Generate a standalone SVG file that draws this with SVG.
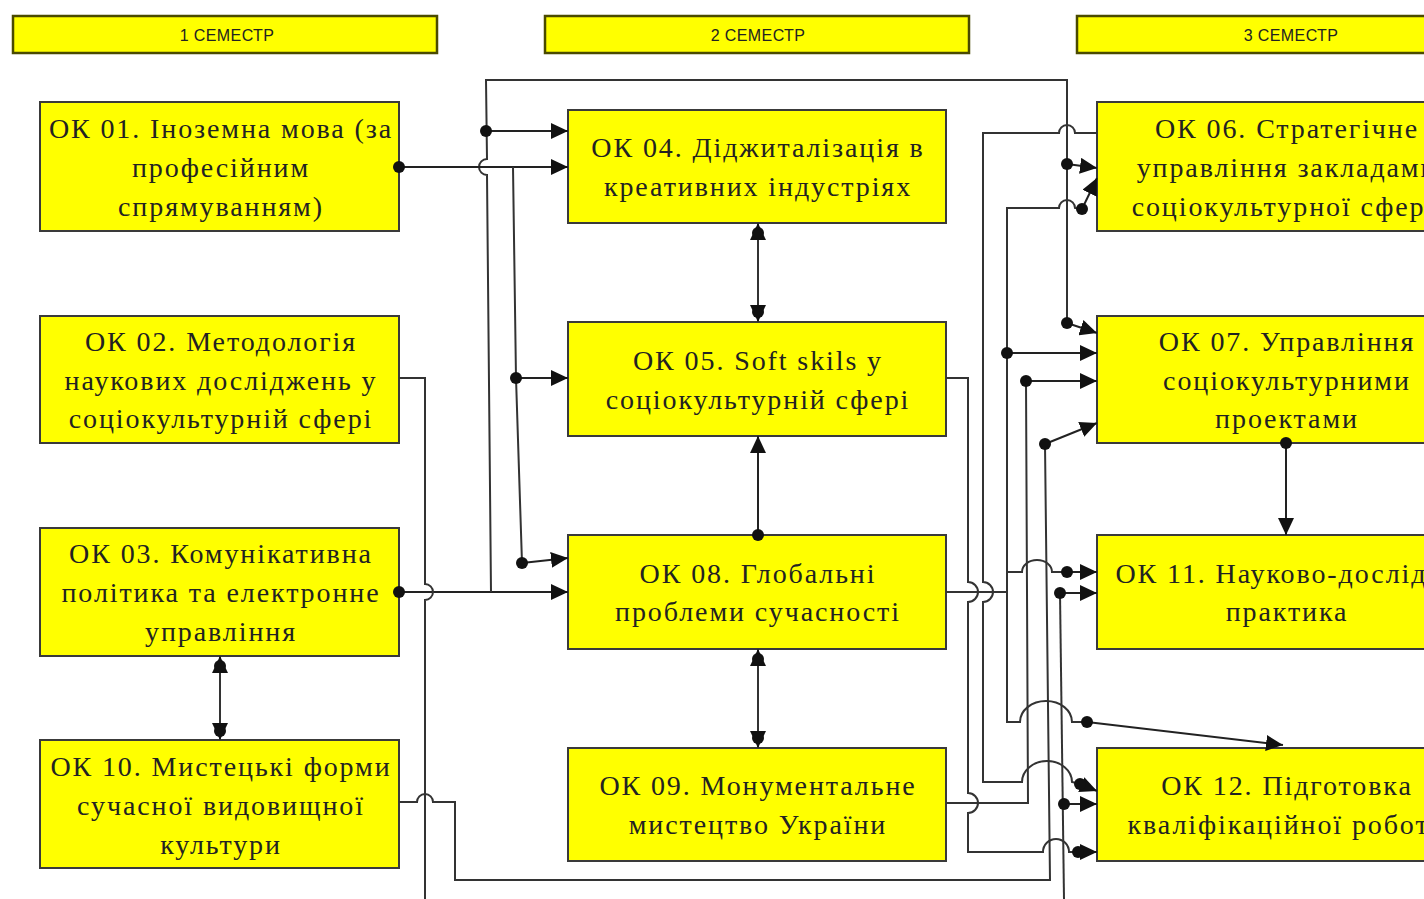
<svg xmlns="http://www.w3.org/2000/svg" width="1424" height="899" viewBox="0 0 1424 899">
<style>
.hdr{fill:#ffff00;stroke:#4a4a00;stroke-width:2.5}
.ht{font-family:"Liberation Sans",Arial,sans-serif;font-size:16px;letter-spacing:0.4px;fill:#222;text-anchor:middle}
.box{fill:#ffff00;stroke:#3a3a3a;stroke-width:2}
.t{font-family:"Liberation Serif","Times New Roman",serif;font-size:28px;letter-spacing:1.9px;fill:#222;text-anchor:middle}
.ln{fill:none;stroke:#333;stroke-width:2}
.ar{fill:none;stroke:#222;stroke-width:2;marker-end:url(#ah)}
.dot{fill:#111}
</style>
<defs>
<marker id="ah" markerUnits="userSpaceOnUse" markerWidth="18" markerHeight="16" refX="17" refY="8" orient="auto">
<path d="M0,0 L17,8 L0,16 z" fill="#111"/>
</marker>
<marker id="as" markerUnits="userSpaceOnUse" markerWidth="18" markerHeight="16" refX="17" refY="8" orient="auto-start-reverse">
<path d="M0,0 L17,8 L0,16 z" fill="#111"/>
</marker>
</defs>
<rect width="1424" height="899" fill="#fff"/>

<g id="headers">
<rect class="hdr" x="13" y="16" width="424" height="37"/>
<text class="ht" x="227" y="41">1 СЕМЕСТР</text>
<rect class="hdr" x="545" y="16" width="424" height="37"/>
<text class="ht" x="758" y="41">2 СЕМЕСТР</text>
<rect class="hdr" x="1077" y="16" width="424" height="37"/>
<text class="ht" x="1291" y="41">3 СЕМЕСТР</text>
</g>

<g id="ok01"><rect class="box" x="40" y="102" width="359" height="129"/>
<text class="t" x="221" y="138">ОК 01. Іноземна мова (за</text><text class="t" x="221" y="177">професійним</text><text class="t" x="221" y="216">спрямуванням)</text></g>
<g id="ok02"><rect class="box" x="40" y="316" width="359" height="127"/>
<text class="t" x="221" y="351">ОК 02. Методологія</text><text class="t" x="221" y="390">наукових досліджень у</text><text class="t" x="221" y="428">соціокультурній сфері</text></g>
<g id="ok03"><rect class="box" x="40" y="528" width="359" height="128"/>
<text class="t" x="221" y="563">ОК 03. Комунікативна</text><text class="t" x="221" y="602">політика та електронне</text><text class="t" x="221" y="641">управління</text></g>
<g id="ok10"><rect class="box" x="40" y="740" width="359" height="128"/>
<text class="t" x="221" y="776">ОК 10. Мистецькі форми</text><text class="t" x="221" y="815">сучасної видовищної</text><text class="t" x="221" y="854">культури</text></g>

<g id="ok04"><rect class="box" x="568" y="110" width="378" height="113"/>
<text class="t" x="758" y="157">ОК 04. Діджиталізація в</text><text class="t" x="758" y="196">креативних індустріях</text></g>
<g id="ok05"><rect class="box" x="568" y="322" width="378" height="114"/>
<text class="t" x="758" y="370">ОК 05. Soft skils у</text><text class="t" x="758" y="409">соціокультурній сфері</text></g>
<g id="ok08"><rect class="box" x="568" y="535" width="378" height="114"/>
<text class="t" x="758" y="583">ОК 08. Глобальні</text><text class="t" x="758" y="621">проблеми сучасності</text></g>
<g id="ok09"><rect class="box" x="568" y="748" width="378" height="113"/>
<text class="t" x="758" y="795">ОК 09. Монументальне</text><text class="t" x="758" y="834">мистецтво України</text></g>

<g id="ok06"><rect class="box" x="1097" y="102" width="378" height="129"/>
<text class="t" x="1287" y="138">ОК 06. Стратегічне</text><text class="t" x="1287" y="177">управління закладами</text><text class="t" x="1287" y="216">соціокультурної сфери</text></g>
<g id="ok07"><rect class="box" x="1097" y="316" width="378" height="127"/>
<text class="t" x="1287" y="351">ОК 07. Управління</text><text class="t" x="1287" y="390">соціокультурними</text><text class="t" x="1287" y="428">проектами</text></g>
<g id="ok11"><rect class="box" x="1097" y="535" width="378" height="114"/>
<text class="t" x="1287" y="583">ОК 11. Науково-дослідна</text><text class="t" x="1287" y="621">практика</text></g>
<g id="ok12"><rect class="box" x="1097" y="748" width="378" height="113"/>
<text class="t" x="1287" y="795">ОК 12. Підготовка</text><text class="t" x="1287" y="834">кваліфікаційної роботи</text></g>

<g id="connectors">
<path class="ar" d="M399,592 L568,592"/>
<path class="ln" d="M491,592 L487,175 A8,8 0 0 1 487,159 L486,80 L1067,80 L1067,323"/>
<path class="ar" d="M486,131 L568,131"/>
<path class="ar" d="M1067,164 L1097,168"/>
<path class="ar" d="M1067,323 L1097,333"/>
<path class="ar" d="M399,167 L568,167"/>
<path class="ln" d="M513,167 L516,378 L522,563"/>
<path class="ar" d="M516,378 L568,378"/>
<path class="ar" d="M522,563 L568,558"/>
<path class="ln" d="M399,378 L425,378 L425,584 A8,8 0 0 1 425,600 L425,899"/>
<path class="ln" d="M399,802 L417,802 A8,8 0 0 1 433,802 L455,802 L455,880 L1050,880 L1045,444"/>
<path class="ar" d="M1045,444 L1097,423"/>
<path class="ln" d="M220,656 L220,740" marker-start="url(#as)" marker-end="url(#as)"/>
<path class="ln" d="M758,223 L758,322" marker-start="url(#as)" marker-end="url(#as)"/>
<path class="ar" d="M758,535 L758,436"/>
<path class="ln" d="M758,649 L758,748" marker-start="url(#as)" marker-end="url(#as)"/>
<path class="ln" d="M946,378 L968,378 L968,582 A10,10 0 0 1 968,602 L968,793 A10,10 0 0 1 968,813 L968,852 L1043,852 A13,13 0 0 1 1069,852 L1078,852"/>
<path class="ar" d="M1078,852 L1097,852"/>
<path class="ln" d="M1097,133 L1075,133 A8,8 0 0 0 1059,133 L983,133 L983,582 A10,10 0 0 1 983,602 L983,782 L1022,782 A25,21 0 0 1 1072,782 L1080,784"/>
<path class="ar" d="M1080,784 L1097,791"/>
<path class="ln" d="M946,592 L1007,592"/>
<path class="ln" d="M1082,209 L1075,208 A8,8 0 0 0 1059,208 L1007,208 L1007,722 L1020,722 A26,21 0 0 1 1072,722 L1087,722"/>
<path class="ar" d="M1082,209 L1097,178"/>
<path class="ar" d="M1007,353 L1097,353"/>
<path class="ln" d="M1007,572 L1022,572 A15,12 0 0 1 1052,572 L1067,572"/>
<path class="ar" d="M1067,572 L1097,572"/>
<path class="ar" d="M1087,722 L1283,745"/>
<path class="ln" d="M946,803 L1028,803 L1026,381"/>
<path class="ar" d="M1026,381 L1097,381"/>
<path class="ln" d="M1064,899 L1060,593"/>
<path class="ar" d="M1060,593 L1097,593"/>
<path class="ar" d="M1064,804 L1097,804"/>
<path class="ar" d="M1286,443 L1286,535"/>
<circle class="dot" cx="399" cy="167" r="6"/>
<circle class="dot" cx="486" cy="131" r="6"/>
<circle class="dot" cx="516" cy="378" r="6"/>
<circle class="dot" cx="522" cy="563" r="6"/>
<circle class="dot" cx="399" cy="592" r="6"/>
<circle class="dot" cx="220" cy="666" r="6"/>
<circle class="dot" cx="220" cy="731" r="6"/>
<circle class="dot" cx="758" cy="233" r="6"/>
<circle class="dot" cx="758" cy="312" r="6"/>
<circle class="dot" cx="758" cy="535" r="6"/>
<circle class="dot" cx="758" cy="659" r="6"/>
<circle class="dot" cx="758" cy="738" r="6"/>
<circle class="dot" cx="1067" cy="164" r="6"/>
<circle class="dot" cx="1082" cy="209" r="6"/>
<circle class="dot" cx="1067" cy="323" r="6"/>
<circle class="dot" cx="1007" cy="353" r="6"/>
<circle class="dot" cx="1026" cy="381" r="6"/>
<circle class="dot" cx="1045" cy="444" r="6"/>
<circle class="dot" cx="1286" cy="443" r="6"/>
<circle class="dot" cx="1067" cy="572" r="6"/>
<circle class="dot" cx="1060" cy="593" r="6"/>
<circle class="dot" cx="1087" cy="722" r="6"/>
<circle class="dot" cx="1080" cy="784" r="6"/>
<circle class="dot" cx="1064" cy="804" r="6"/>
<circle class="dot" cx="1078" cy="852" r="6"/>
</g>
</svg>
